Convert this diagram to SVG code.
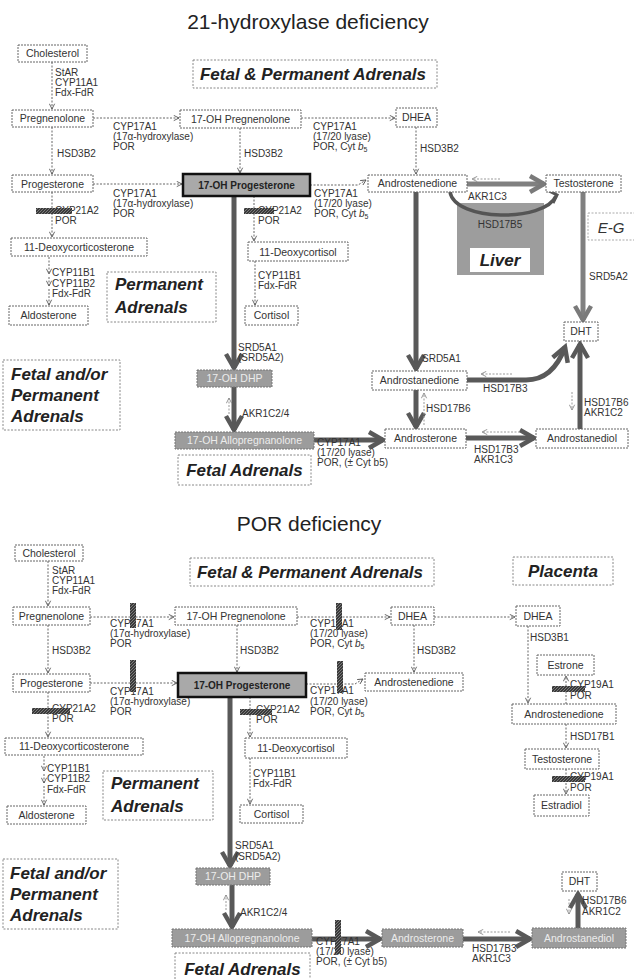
<svg xmlns="http://www.w3.org/2000/svg" width="634" height="979" viewBox="0 0 634 979">
  <defs>
    <style>
      text { font-family: "Liberation Sans", Arial, sans-serif; fill: #333; }
      .title { font-size: 21px; fill: #222; text-anchor: middle; }
      .box { fill: #fff; stroke: #666; stroke-width: 1; stroke-dasharray: 2 1; }
      .hl { fill: #a9a9a9; stroke: #111; stroke-width: 2.5; }
      .gbox { fill: #9c9c9c; stroke: #777; stroke-width: 1; stroke-dasharray: 2 1; }
      .reg { fill: #fff; stroke: #888; stroke-width: 1; stroke-dasharray: 2 1.5; }
      .t { font-size: 10.5px; text-anchor: middle; }
      .tb { font-size: 10px; font-weight: bold; text-anchor: middle; fill: #222; }
      .tw { font-size: 10.5px; text-anchor: middle; fill: #ececec; }
      .e { font-size: 10px; fill: #333; }
      .r { font-size: 17px; font-weight: bold; font-style: italic; fill: #222; }
      .rc { text-anchor: middle; }
      .dot { fill: none; stroke: #666; stroke-width: 1; stroke-dasharray: 2 1.5; marker-end: url(#ah); }
      .rev { fill: none; stroke: #999; stroke-width: 1; stroke-dasharray: 2 1.5; marker-end: url(#ahg); }
      .thk { fill: none; stroke: #595959; stroke-width: 5; marker-end: url(#hd); }
      .thl { fill: none; stroke: #808080; stroke-width: 5; marker-end: url(#hl); }
      .blk { fill: url(#hatch); }
    </style>
    <pattern id="hatch" width="3" height="3" patternUnits="userSpaceOnUse">
      <rect width="3" height="3" fill="#3a3a3a"/>
      <path d="M0,3 L3,0" stroke="#8c8c8c" stroke-width="0.8"/>
    </pattern>
    <marker id="ah" viewBox="0 0 8 8" refX="7" refY="4" markerWidth="7" markerHeight="7" markerUnits="userSpaceOnUse" orient="auto">
      <path d="M1,1 L7,4 L1,7" fill="none" stroke="#555" stroke-width="1"/>
    </marker>
    <marker id="ahg" viewBox="0 0 8 8" refX="7" refY="4" markerWidth="7" markerHeight="7" markerUnits="userSpaceOnUse" orient="auto">
      <path d="M1,1 L7,4 L1,7" fill="none" stroke="#888" stroke-width="1"/>
    </marker>
    <marker id="hd" viewBox="0 0 26 22" refX="18" refY="11" markerWidth="26" markerHeight="22" markerUnits="userSpaceOnUse" orient="auto" overflow="visible">
      <path d="M4,3 L18,11 L4,19" fill="none" stroke="#595959" stroke-width="4.5"/>
    </marker>
    <marker id="hl" viewBox="0 0 26 22" refX="18" refY="11" markerWidth="26" markerHeight="22" markerUnits="userSpaceOnUse" orient="auto" overflow="visible">
      <path d="M4,3 L18,11 L4,19" fill="none" stroke="#7a7a7a" stroke-width="4.5"/>
    </marker>
  </defs>

  <rect width="634" height="979" fill="#fff"/>

  <!-- ============ Upper panel: 21-hydroxylase deficiency ============ -->
  <text class="title" x="308" y="29">21-hydroxylase deficiency</text>

  <g id="regions-top">
    <g id="reg-fetal-permanent-top"><rect class="reg" x="193" y="60" width="244" height="28"/><text class="r rc" x="313" y="80">Fetal &amp; Permanent Adrenals</text></g>
    <g id="reg-permanent-top"><rect class="reg" x="107" y="272" width="109" height="50"/><text class="r" x="115" y="290">Permanent</text><text class="r" x="115" y="313">Adrenals</text></g>
    <g id="reg-fetal-or-permanent-top"><rect class="reg" x="3" y="360" width="117" height="70"/><text class="r" x="11" y="380">Fetal and/or</text><text class="r" x="11" y="401">Permanent</text><text class="r" x="11" y="422">Adrenals</text></g>
    <g id="reg-fetal-top"><rect class="reg" x="178" y="455" width="133" height="30"/><text class="r rc" x="244.5" y="476">Fetal Adrenals</text></g>
    <g id="reg-liver">
      <rect x="457" y="203" width="87" height="72" fill="#9d9d9d"/>
      <text x="500" y="228" font-size="10px" fill="#b9b9b9" text-anchor="middle">HSD17B5</text>
      <rect x="470" y="248" width="60" height="24" fill="#fff"/>
      <text class="r rc" x="500" y="266">Liver</text>
    </g>
    <g id="reg-eg"><rect x="588" y="213" width="52" height="27" fill="#fff" stroke="#aaa" stroke-dasharray="2 1.5"/><text x="611" y="233" font-size="15px" font-style="italic" fill="#999" text-anchor="middle">E-G</text></g>
  </g>

  <g id="connectors-top">
    <path class="dot" d="M52,62 V109"/>
    <path class="dot" d="M93,118 H179"/>
    <path class="dot" d="M301,118 H395"/>
    <path class="dot" d="M52,127 V174"/>
    <path class="dot" d="M240,128 V173"/>
    <path class="dot" d="M416,127 V174"/>
    <path class="dot" d="M93,184 H182"/>
    <path class="dot" d="M310,185 H358 L366,180"/>
    <path class="dot" d="M52,192 V237"/>
    <path class="dot" d="M254,196 V241"/>
    <path class="dot" d="M49,257 V274"/>
    <path class="dot" d="M49,277 V286"/>
    <path class="dot" d="M49,289 V305"/>
    <path class="dot" d="M255,261 V305"/>
    <!-- thick flux arrows -->
    <path class="thk" d="M234,196 V368"/>
    <path class="thk" d="M234,387 V430"/>
    <path class="rev" d="M229,414 V398"/>
    <path class="thk" d="M314,440 H383"/>
    <path class="thk" d="M416,192 V369"/>
    <path class="thk" d="M416,390 V427"/>
    <path class="rev" d="M424,425 V393"/>
    <path class="thk" d="M466,438 H534"/>
    <path class="rev" d="M520,432 H482"/>
    <path class="thk" d="M580,429 V344"/>
    <path class="rev" d="M572,392 V410"/>
    <path class="thk" d="M467,380 H526 Q553,380 565,347"/>
    <path class="rev" d="M512,374 H481"/>
    <path class="thl" d="M467,184 H544"/>
    <path class="rev" d="M500,179 H472"/>
    <path class="thl" d="M583,192 V320" stroke="#8a8a8a"/>
    <path d="M450,192 C455,222 545,222 556,196" fill="none" stroke="#555" stroke-width="3.5"/>
    <path d="M549,191 L557,195 L553,203" fill="none" stroke="#555" stroke-width="3"/>
  </g>

  <g id="labels-top">
    <text class="e" x="55" y="76">StAR</text>
    <text class="e" x="55" y="86">CYP11A1</text>
    <text class="e" x="55" y="96">Fdx-FdR</text>
    <text class="e" x="113" y="130">CYP17A1</text>
    <text class="e" x="113" y="140">(17α-hydroxylase)</text>
    <text class="e" x="113" y="150">POR</text>
    <text class="e" x="313" y="130">CYP17A1</text>
    <text class="e" x="313" y="140">(17/20 lyase)</text>
    <text class="e" x="313" y="150">POR, Cyt <tspan font-style="italic">b</tspan><tspan font-size="7px" dy="2">5</tspan></text>
    <text class="e" x="57" y="157">HSD3B2</text>
    <text class="e" x="244" y="157">HSD3B2</text>
    <text class="e" x="420" y="152">HSD3B2</text>
    <text class="e" x="113" y="197">CYP17A1</text>
    <text class="e" x="113" y="207">(17α-hydroxylase)</text>
    <text class="e" x="113" y="217">POR</text>
    <text class="e" x="314" y="197">CYP17A1</text>
    <text class="e" x="314" y="207">(17/20 lyase)</text>
    <text class="e" x="314" y="217">POR, Cyt <tspan font-style="italic">b</tspan><tspan font-size="7px" dy="2">5</tspan></text>
    <text class="e" x="55" y="214">CYP21A2</text>
    <text class="e" x="55" y="224">POR</text>
    <text class="e" x="258" y="214">CYP21A2</text>
    <text class="e" x="258" y="224">POR</text>
    <text class="e" x="52" y="276">CYP11B1</text>
    <text class="e" x="52" y="287">CYP11B2</text>
    <text class="e" x="52" y="297">Fdx-FdR</text>
    <text class="e" x="258" y="279">CYP11B1</text>
    <text class="e" x="258" y="289">Fdx-FdR</text>
    <text class="e" x="238" y="351">SRD5A1</text>
    <text class="e" x="238" y="361">(SRD5A2)</text>
    <text class="e" x="242" y="417">AKR1C2/4</text>
    <text class="e" x="317" y="446">CYP17A1</text>
    <text class="e" x="317" y="456">(17/20 lyase)</text>
    <text class="e" x="317" y="466">POR, (± Cyt b5)</text>
    <text class="e" x="468" y="200">AKR1C3</text>
    <text class="e" x="589" y="280">SRD5A2</text>
    <text class="e" x="422" y="362">SRD5A1</text>
    <text class="e" x="483" y="392">HSD17B3</text>
    <text class="e" x="426" y="412">HSD17B6</text>
    <text class="e" x="474" y="453">HSD17B3</text>
    <text class="e" x="474" y="463">AKR1C3</text>
    <text class="e" x="584" y="406">HSD17B6</text>
    <text class="e" x="584" y="416">AKR1C2</text>
    <!-- blocked steps -->
    <rect class="blk" x="36" y="208" width="36" height="6"/>
    <rect class="blk" x="244" y="208" width="30" height="6"/>
  </g>

  <g id="nodes-top">
    <g id="t-cholesterol"><rect class="box" x="18" y="45" width="69" height="17"/><text class="t" x="52.5" y="57">Cholesterol</text></g>
    <g id="t-pregnenolone"><rect class="box" x="12" y="110" width="81" height="17"/><text class="t" x="52.5" y="122">Pregnenolone</text></g>
    <g id="t-17oh-pregnenolone"><rect class="box" x="180" y="110" width="121" height="18"/><text class="t" x="240.5" y="122.5">17-OH Pregnenolone</text></g>
    <g id="t-dhea"><rect class="box" x="396" y="108" width="41" height="19"/><text class="t" x="416.5" y="121">DHEA</text></g>
    <g id="t-progesterone"><rect class="box" x="12" y="175" width="81" height="17"/><text class="t" x="52.5" y="187.5">Progesterone</text></g>
    <g id="t-17oh-progesterone"><rect class="hl" x="183" y="174" width="127" height="22"/><text class="tb" x="246.5" y="189">17-OH Progesterone</text></g>
    <g id="t-androstenedione"><rect class="box" x="368" y="175" width="99" height="17"/><text class="t" x="417.5" y="187">Androstenedione</text></g>
    <g id="t-testosterone"><rect class="box" x="546" y="175" width="75" height="17"/><text class="t" x="583.5" y="187">Testosterone</text></g>
    <g id="t-11-deoxycorticosterone"><rect class="box" x="11" y="238" width="136" height="18"/><text class="t" x="79" y="251">11-Deoxycorticosterone</text></g>
    <g id="t-11-deoxycortisol"><rect class="box" x="248" y="242" width="100" height="19"/><text class="t" x="298" y="255.5">11-Deoxycortisol</text></g>
    <g id="t-aldosterone"><rect class="box" x="9" y="306" width="79" height="19"/><text class="t" x="48.5" y="319">Aldosterone</text></g>
    <g id="t-cortisol"><rect class="box" x="245" y="306" width="53" height="19"/><text class="t" x="271.5" y="319">Cortisol</text></g>
    <g id="t-dht"><rect class="box" x="564" y="322" width="34" height="19"/><text class="t" x="581" y="335">DHT</text></g>
    <g id="t-17oh-dhp"><rect class="gbox" x="197" y="370" width="75" height="17"/><text class="tw" x="234.5" y="382">17-OH DHP</text></g>
    <g id="t-androstanedione"><rect class="box" x="372" y="371" width="95" height="19"/><text class="t" x="419.5" y="384">Androstanedione</text></g>
    <g id="t-androsterone"><rect class="box" x="385" y="429" width="81" height="19"/><text class="t" x="425.5" y="442">Androsterone</text></g>
    <g id="t-androstanediol"><rect class="box" x="536" y="429" width="92" height="19"/><text class="t" x="582" y="442">Androstanediol</text></g>
    <g id="t-17oh-allopregnanolone"><rect class="gbox" x="175" y="432" width="139" height="17"/><text class="tw" x="244.5" y="444">17-OH Allopregnanolone</text></g>
  </g>

  <!-- ============ Lower panel: POR deficiency ============ -->
  <text class="title" x="309" y="531">POR deficiency</text>

  <g id="regions-bottom">
    <g id="reg-fetal-permanent-bottom"><rect class="reg" x="190" y="558" width="244" height="28"/><text class="r rc" x="310" y="578">Fetal &amp; Permanent Adrenals</text></g>
    <g id="reg-placenta"><rect class="reg" x="513" y="557" width="100" height="28"/><text class="r rc" x="563" y="577">Placenta</text></g>
    <g id="reg-permanent-bottom"><rect class="reg" x="103" y="771" width="110" height="49"/><text class="r" x="111" y="789">Permanent</text><text class="r" x="111" y="812">Adrenals</text></g>
    <g id="reg-fetal-or-permanent-bottom"><rect class="reg" x="3" y="859" width="115" height="70"/><text class="r" x="10" y="879">Fetal and/or</text><text class="r" x="10" y="900">Permanent</text><text class="r" x="10" y="921">Adrenals</text></g>
    <g id="reg-fetal-bottom"><rect class="reg" x="175" y="953" width="135" height="32"/><text class="r rc" x="242.5" y="975">Fetal Adrenals</text></g>
  </g>

  <g id="connectors-bottom">
    <path class="dot" d="M48,561 V606"/>
    <path class="dot" d="M90,617 H174"/>
    <path class="dot" d="M297,617 H390"/>
    <path class="dot" d="M434,617 H515"/>
    <path class="dot" d="M48,625 V673"/>
    <path class="dot" d="M237,625 V672"/>
    <path class="dot" d="M414,625 V672"/>
    <path class="dot" d="M90,683 H177"/>
    <path class="dot" d="M306,684 H355 L363,679"/>
    <path class="dot" d="M48,692 V737"/>
    <path class="dot" d="M250,697 V737"/>
    <path class="dot" d="M44,756 V771"/>
    <path class="dot" d="M44,774 V783"/>
    <path class="dot" d="M44,786 V805"/>
    <path class="dot" d="M250,758 V804"/>
    <path class="dot" d="M528,626 V703"/>
    <path class="dot" d="M566,704 V676"/>
    <path class="dot" d="M566,724 V748"/>
    <path class="dot" d="M566,769 V794"/>
    <!-- thick flux arrows -->
    <path class="thk" d="M230,697 V866"/>
    <path class="thk" d="M232,885 V927"/>
    <path class="rev" d="M226,910 V895"/>
    <path class="thk" d="M312,939 H380"/>
    <path class="thk" d="M463,939 H530"/>
    <path class="rev" d="M510,932 H478"/>
    <path class="thk" d="M578,928 V894"/>
    <path class="rev" d="M569,899 V914"/>
  </g>

  <g id="labels-bottom">
    <text class="e" x="52" y="574">StAR</text>
    <text class="e" x="52" y="584">CYP11A1</text>
    <text class="e" x="52" y="594">Fdx-FdR</text>
    <text class="e" x="110" y="627">CYP17A1</text>
    <text class="e" x="110" y="637">(17α-hydroxylase)</text>
    <text class="e" x="110" y="647">POR</text>
    <text class="e" x="310" y="627">CYP17A1</text>
    <text class="e" x="310" y="637">(17/20 lyase)</text>
    <text class="e" x="310" y="647">POR, Cyt <tspan font-style="italic">b</tspan><tspan font-size="7px" dy="2">5</tspan></text>
    <text class="e" x="52" y="654">HSD3B2</text>
    <text class="e" x="240" y="654">HSD3B2</text>
    <text class="e" x="417" y="654">HSD3B2</text>
    <text class="e" x="110" y="695">CYP17A1</text>
    <text class="e" x="110" y="705">(17α-hydroxylase)</text>
    <text class="e" x="110" y="715">POR</text>
    <text class="e" x="310" y="694">CYP17A1</text>
    <text class="e" x="310" y="705">(17/20 lyase)</text>
    <text class="e" x="310" y="715">POR, Cyt <tspan font-style="italic">b</tspan><tspan font-size="7px" dy="2">5</tspan></text>
    <text class="e" x="52" y="712">CYP21A2</text>
    <text class="e" x="52" y="722">POR</text>
    <text class="e" x="256" y="713">CYP21A2</text>
    <text class="e" x="256" y="723">POR</text>
    <text class="e" x="47" y="772">CYP11B1</text>
    <text class="e" x="47" y="782">CYP11B2</text>
    <text class="e" x="47" y="793">Fdx-FdR</text>
    <text class="e" x="253" y="777">CYP11B1</text>
    <text class="e" x="253" y="787">Fdx-FdR</text>
    <text class="e" x="235" y="849">SRD5A1</text>
    <text class="e" x="235" y="860">(SRD5A2)</text>
    <text class="e" x="240" y="916">AKR1C2/4</text>
    <text class="e" x="316" y="945">CYP17A1</text>
    <text class="e" x="316" y="955">(17/20 lyase)</text>
    <text class="e" x="316" y="965">POR, (± Cyt b5)</text>
    <text class="e" x="472" y="952">HSD17B3</text>
    <text class="e" x="472" y="962">AKR1C3</text>
    <text class="e" x="582" y="904">HSD17B6</text>
    <text class="e" x="582" y="915">AKR1C2</text>
    <text class="e" x="530" y="641">HSD3B1</text>
    <text class="e" x="570" y="688">CYP19A1</text>
    <text class="e" x="570" y="699">POR</text>
    <text class="e" x="570" y="740">HSD17B1</text>
    <text class="e" x="570" y="780">CYP19A1</text>
    <text class="e" x="570" y="791">POR</text>
    <!-- blocked steps -->
    <rect class="blk" x="130" y="603" width="6" height="25"/>
    <rect class="blk" x="336" y="603" width="6" height="27"/>
    <rect class="blk" x="130" y="660" width="6" height="32"/>
    <rect class="blk" x="337" y="661" width="6" height="32"/>
    <rect class="blk" x="32" y="708" width="38" height="6"/>
    <rect class="blk" x="240" y="709" width="32" height="6"/>
    <rect class="blk" x="335" y="920" width="6" height="34"/>
    <rect class="blk" x="552" y="686" width="33" height="6"/>
    <rect class="blk" x="552" y="776" width="33" height="6"/>
  </g>

  <g id="nodes-bottom">
    <g id="b-cholesterol"><rect class="box" x="15" y="545" width="68" height="16"/><text class="t" x="49" y="556.5">Cholesterol</text></g>
    <g id="b-pregnenolone"><rect class="box" x="13" y="607" width="77" height="18"/><text class="t" x="51.5" y="619.5">Pregnenolone</text></g>
    <g id="b-17oh-pregnenolone"><rect class="box" x="175" y="607" width="122" height="18"/><text class="t" x="236" y="620">17-OH Pregnenolone</text></g>
    <g id="b-dhea"><rect class="box" x="391" y="607" width="43" height="18"/><text class="t" x="412.5" y="620">DHEA</text></g>
    <g id="b-progesterone"><rect class="box" x="13" y="674" width="77" height="18"/><text class="t" x="51.5" y="686.5">Progesterone</text></g>
    <g id="b-17oh-progesterone"><rect class="hl" x="178" y="673" width="128" height="24"/><text class="tb" x="242" y="689">17-OH Progesterone</text></g>
    <g id="b-androstenedione"><rect class="box" x="365" y="673" width="98" height="18"/><text class="t" x="414" y="685.5">Androstenedione</text></g>
    <g id="b-11-deoxycorticosterone"><rect class="box" x="5" y="738" width="138" height="17"/><text class="t" x="74" y="750">11-Deoxycorticosterone</text></g>
    <g id="b-11-deoxycortisol"><rect class="box" x="245" y="738" width="102" height="20"/><text class="t" x="296" y="752">11-Deoxycortisol</text></g>
    <g id="b-aldosterone"><rect class="box" x="7" y="806" width="79" height="18"/><text class="t" x="46.5" y="819">Aldosterone</text></g>
    <g id="b-cortisol"><rect class="box" x="240" y="805" width="63" height="18"/><text class="t" x="271.5" y="818">Cortisol</text></g>
    <g id="b-17oh-dhp"><rect class="gbox" x="196" y="868" width="74" height="17"/><text class="tw" x="233" y="880">17-OH DHP</text></g>
    <g id="b-17oh-allopregnanolone"><rect class="gbox" x="172" y="929" width="140" height="18"/><text class="tw" x="242" y="941.5">17-OH Allopregnanolone</text></g>
    <g id="b-androsterone"><rect class="gbox" x="382" y="929" width="81" height="18"/><text class="tw" x="422.5" y="941.5">Androsterone</text></g>
    <g id="b-androstanediol"><rect class="gbox" x="532" y="928" width="94" height="20"/><text class="tw" x="579" y="941.5">Androstanediol</text></g>
    <g id="b-dht"><rect class="box" x="562" y="872" width="35" height="19"/><text class="t" x="579.5" y="885">DHT</text></g>
    <g id="p-dhea"><rect class="box" x="516" y="606" width="44" height="20"/><text class="t" x="538" y="620">DHEA</text></g>
    <g id="p-estrone"><rect class="box" x="537" y="655" width="57" height="20"/><text class="t" x="565.5" y="669">Estrone</text></g>
    <g id="p-androstenedione"><rect class="box" x="512" y="704" width="104" height="20"/><text class="t" x="564" y="718">Androstenedione</text></g>
    <g id="p-testosterone"><rect class="box" x="525" y="749" width="74" height="20"/><text class="t" x="562" y="763">Testosterone</text></g>
    <g id="p-estradiol"><rect class="box" x="534" y="795" width="55" height="21"/><text class="t" x="561.5" y="809">Estradiol</text></g>
  </g>
</svg>
